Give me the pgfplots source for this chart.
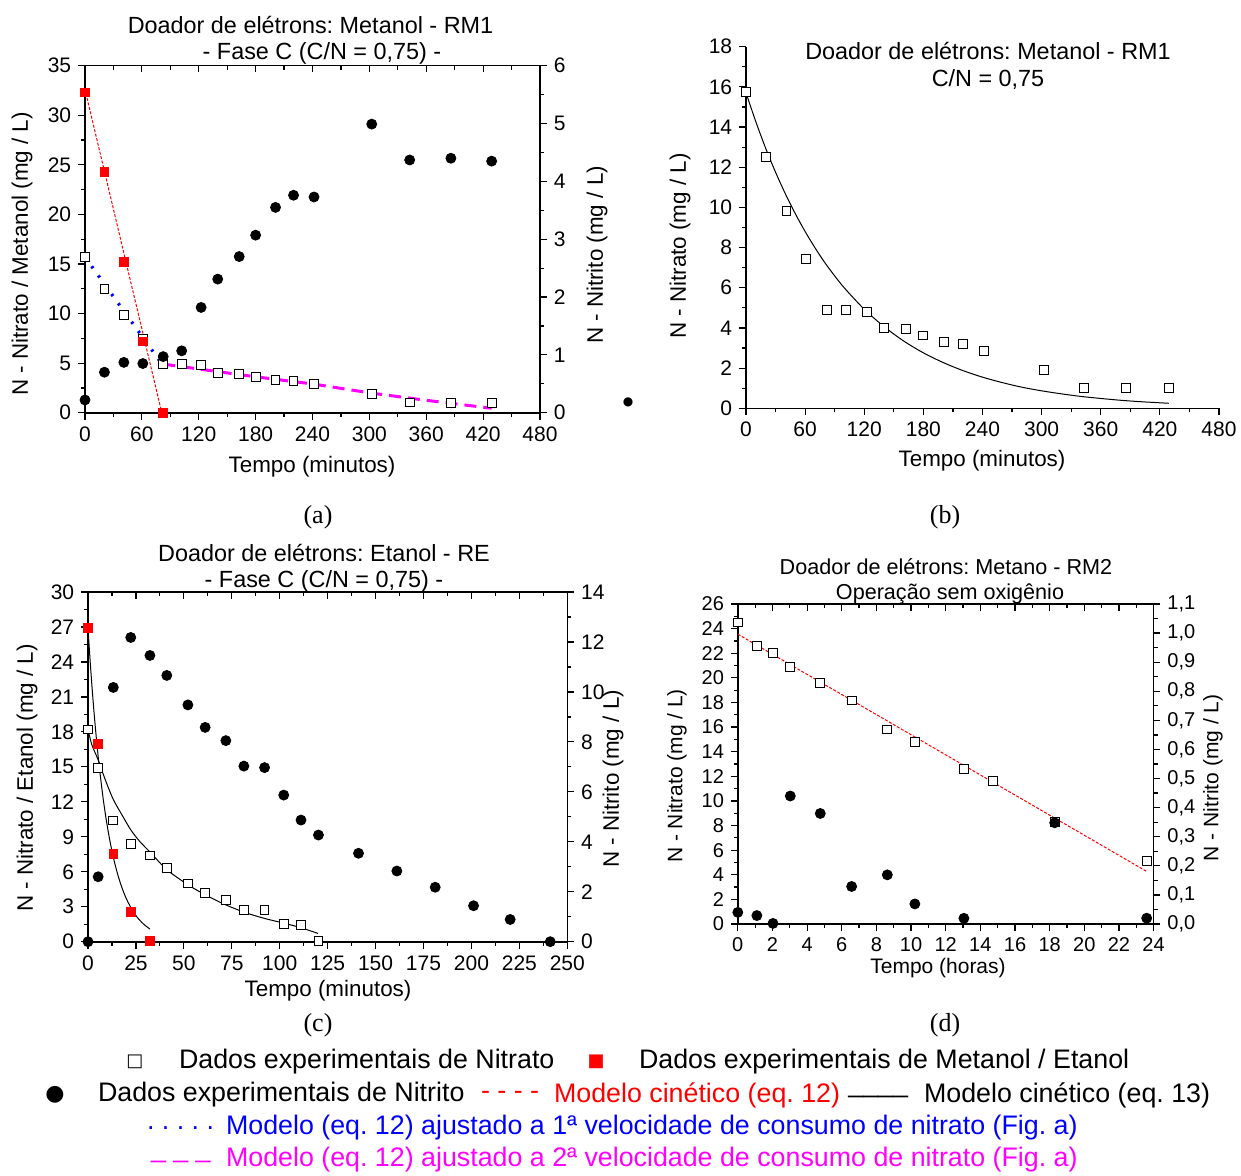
\documentclass[border=0pt]{standalone}
\usepackage{pgfplots}
\pgfplotsset{compat=1.18}
\usepackage{fontspec}
\setmainfont{Liberation Sans}
\newfontfamily\seriffont{Liberation Serif}
\newfontfamily\symfont{DejaVu Sans}
\frenchspacing
\definecolor{mag}{RGB}{255,0,255}
\definecolor{rd}{RGB}{255,0,0}
\definecolor{bl}{RGB}{0,0,255}
\newcommand\tk{\fontsize{10.5}{12}\selectfont}
\newcommand\lab{\fontsize{11.2}{13}\selectfont}
\newcommand\ttl{\fontsize{11.7}{14}\selectfont}
\newcommand\leg{\fontsize{13.4}{15}\selectfont}
\pgfplotsset{
  base/.style={scale only axis, anchor=south west,
    tick label style={font=\tk},
    /pgf/number format/assume math mode=true,
    scaled ticks=false,
    major tick length=3.4pt, minor tick length=2pt,
    every tick/.style={line width=0.6pt, black},
    axis line style={line width=0.8pt,-},
    every outer x axis line/.append style={-},
    every outer y axis line/.append style={-},
    every inner x axis line/.append style={-},
    every inner y axis line/.append style={-},
  },
  hsq/.style={only marks, mark=square*, mark size=2.2pt, mark options={fill=white, draw=black, line width=0.5pt}},
  rsq/.style={only marks, mark=square*, mark size=2.2pt, mark options={fill=rd, draw=rd}},
  bci/.style={only marks, mark=*, mark size=2.5pt, mark options={fill=black, draw=black}},
  redline/.style={rd, line width=0.5pt, dash pattern=on 1.5pt off 0.8pt, no marks},
  modline/.style={black, line width=0.5pt, no marks, smooth},
}
\begin{document}
\begin{tikzpicture}[x=0.5pt,y=0.5pt]
\path[use as bounding box] (0,0) rectangle (1241,1175);
\coordinate (PA) at (85,762.3);
\coordinate (PB) at (746,766.7);
\coordinate (PC) at (88,233.3);
\coordinate (PD) at (737.8,251);

%%%%%%%%%%%%%%%% Panel a
\begin{axis}[base, at={(PA)}, width=227.5pt, height=173.5pt,
  xmin=0,xmax=480,ymin=0,ymax=35,
  axis x line*=bottom, axis y line*=left, tick align=outside,
  xtick={0,60,...,480}, minor x tick num=1,
  ytick={0,5,...,35}, minor y tick num=1]
\addplot[redline] coordinates {(1,32.2) (81,0)};
\addplot[bl, line width=1.6pt, dash pattern=on 1.2pt off 4.5pt, no marks] coordinates {(0,15.7) (82,4.8)};
\addplot[mag, line width=1.5pt, dash pattern=on 6pt off 3.5pt, no marks] coordinates {(82.5,4.9) (180,3.62) (240,2.9) (302,1.98) (360,1.25) (429,0.45)};
\addplot[hsq] coordinates {(0,15.7) (20.5,12.5) (41,9.83) (61,7.45) (82.5,4.9) (102,4.9) (122.5,4.78) (140,3.98) (162.7,3.92) (180,3.62) (201,3.32) (220,3.2) (241.6,2.86) (302.5,1.9) (342.5,1.03) (386,1.0) (429,1.0)};
\addplot[rsq] coordinates {(0,32.3) (20.5,24.3) (41,15.2) (61,7.2) (82.5,0)};
\end{axis}
\begin{axis}[base, at={(PA)}, width=227.5pt, height=173.5pt,
  xmin=0,xmax=480,ymin=0,ymax=35, hide y axis,
  axis x line*=top, tick align=inside,
  xtick={0,60,...,480}, minor x tick num=1, xticklabels={}]
\end{axis}
\begin{axis}[base, at={(PA)}, width=227.5pt, height=173.5pt,
  xmin=0,xmax=480,ymin=0,ymax=6, hide x axis,
  axis y line*=right, tick align=outside,
  ytick={0,1,...,6}, minor y tick num=1]
\addplot[bci] coordinates {(0,0.22) (20.5,0.70) (41,0.87) (61,0.85) (82.5,0.97) (102,1.07) (122.5,1.82) (140,2.31) (162.7,2.70) (180,3.07) (201,3.55) (220,3.76) (241.6,3.73) (302.5,4.99) (342.5,4.37) (386,4.40) (429,4.35)};
\end{axis}
\node[font=\ttl] at (310.5,1150) {Doador de elétrons: Metanol - RM1};
\node[font=\ttl] at (322,1122) {- Fase C (C/N = 0,75) -};
\node[font=\lab, rotate=90] at (22,921) {N - Nitrato / Metanol (mg / L)};
\node[font=\lab, rotate=90] at (597,920) {N - Nitrito (mg / L)};
\node[font=\lab] at (312,708) {Tempo (minutos)};
\node[font=\seriffont\fontsize{13}{15}\selectfont] at (318,658) {(a)};
\node[font=\symfont\fontsize{6}{7}\selectfont] at (628,773) {●};

%%%%%%%%%%%%%%%% Panel b
\begin{axis}[base, at={(PB)}, width=236.5pt, height=180.8pt,
  xmin=0,xmax=480,ymin=0,ymax=18,
  axis x line*=bottom, axis y line*=left, tick align=outside,
  xtick={0,60,...,480}, minor x tick num=1,
  ytick={0,2,...,18}, minor y tick num=1]
\addplot[modline] coordinates {(0,15.70) (10,14.26) (20,12.94) (30,11.75) (40,10.67) (50,9.69) (60,8.80) (70,7.99) (80,7.25) (90,6.59) (100,5.98) (120,4.93) (140,4.07) (160,3.35) (180,2.76) (200,2.28) (220,1.88) (240,1.55) (260,1.28) (280,1.05) (300,0.87) (320,0.72) (340,0.59) (360,0.49) (380,0.40) (400,0.33) (429,0.25)};
\addplot[hsq] coordinates {(0,15.73) (20,12.52) (41,9.82) (61,7.43) (82,4.89) (101.5,4.89) (122.4,4.78) (139.7,3.98) (162.7,3.93) (180,3.62) (201,3.32) (220,3.2) (241.6,2.87) (302.8,1.91) (343,1.03) (386,1.0) (429,1.0)};
\end{axis}
\node[font=\ttl] at (988,1124) {Doador de elétrons: Metanol - RM1};
\node[font=\ttl] at (988,1095) {C/N = 0,75};
\node[font=\lab, rotate=90] at (680,929) {N - Nitrato (mg / L)};
\node[font=\lab] at (982,714) {Tempo (minutos)};
\node[font=\seriffont\fontsize{13}{15}\selectfont] at (945,658) {(b)};

%%%%%%%%%%%%%%%% Panel c
\begin{axis}[base, at={(PC)}, width=239.65pt, height=174.85pt,
  xmin=0,xmax=250,ymin=0,ymax=30,
  axis x line*=bottom, axis y line*=left, tick align=outside,
  xtick={0,25,...,250}, minor x tick num=1,
  ytick={0,3,...,30}, minor y tick num=1]
\addplot[modline] coordinates {(0,26.90) (1,24.36) (2,22.06) (3,19.97) (4,18.09) (5,16.38) (6,14.83) (8,12.16) (10,9.97) (12,8.17) (14,6.70) (16,5.49) (18,4.50) (20,3.69) (22,3.03) (24,2.48) (26,2.03) (28,1.67) (30,1.37) (32.3,1.09)};
\addplot[modline] coordinates {(0,18.2) (2,16.9) (5.3,15.6) (9,13.9) (13.2,12.2) (18,10.8) (22.3,9.6) (27,8.6) (32.3,7.7) (41,6.2) (52,4.9) (62,3.95) (72,3.15) (82,2.5) (92,2.0) (102,1.6) (111,1.2) (120,0.71)};
\addplot[hsq] coordinates {(0,18.2) (5.3,14.9) (13.2,10.4) (22.3,8.4) (32.3,7.4) (41.1,6.3) (52.1,5.0) (61.1,4.2) (71.9,3.6) (81.3,2.7) (92.1,2.7) (102.1,1.5) (111.1,1.43) (120.2,0.05)};
\addplot[rsq] coordinates {(0,26.9) (5.3,17.0) (13.2,7.5) (22.3,2.57) (32.3,0.05)};
\end{axis}
\begin{axis}[base, at={(PC)}, width=239.65pt, height=174.85pt,
  xmin=0,xmax=250,ymin=0,ymax=30, hide y axis,
  axis x line*=top, tick align=inside,
  xtick={0,25,...,250}, minor x tick num=1, xticklabels={}]
\end{axis}
\begin{axis}[base, at={(PC)}, width=239.65pt, height=174.85pt,
  xmin=0,xmax=250,ymin=0,ymax=14, hide x axis,
  axis y line*=right, tick align=outside,
  ytick={0,2,...,14}, minor y tick num=1]
\addplot[bci] coordinates {(0,0) (5.3,2.60) (13.2,10.18) (22.3,12.18) (32.3,11.46) (41.1,10.66) (52.1,9.48) (61.1,8.58) (71.9,8.05) (81.3,7.03) (92.1,6.97) (102.1,5.87) (111.1,4.87) (120.2,4.27) (141.1,3.54) (161.1,2.83) (181.1,2.18) (201.1,1.44) (220.2,0.89) (241.1,0)};
\end{axis}
\node[font=\ttl] at (324,622) {Doador de elétrons: Etanol - RE};
\node[font=\ttl] at (324,594) {- Fase C (C/N = 0,75) -};
\node[font=\lab, rotate=90] at (27,397) {N - Nitrato / Etanol (mg / L)};
\node[font=\lab, rotate=90] at (613,396) {N - Nitrito (mg / L)};
\node[font=\lab] at (328,184) {Tempo (minutos)};
\node[font=\seriffont\fontsize{13}{15}\selectfont] at (318,150) {(c)};

%%%%%%%%%%%%%%%% Panel d
\begin{axis}[base, at={(PD)}, width=207.9pt, height=160pt,
  tick label style={font=\fontsize{10}{11}\selectfont},
  xmin=0,xmax=24,ymin=0,ymax=26,
  axis x line*=bottom, axis y line*=left, tick align=outside,
  xtick={0,2,...,24}, minor x tick num=1,
  ytick={0,2,...,26}, minor y tick num=1]
\addplot[redline] coordinates {(0,23.55) (23.6,4.27)};
\addplot[hsq] coordinates {(0,24.5) (1.1,22.6) (2.03,22.05) (3.03,20.9) (4.76,19.6) (6.57,18.16) (8.63,15.8) (10.22,14.8) (13.05,12.58) (14.71,11.63) (18.29,8.3) (23.6,5.09)};
\end{axis}
\begin{axis}[base, at={(PD)}, width=207.9pt, height=160pt,
  xmin=0,xmax=24,ymin=0,ymax=26, hide y axis,
  axis x line*=top, tick align=inside,
  xtick={0,2,...,24}, minor x tick num=1, xticklabels={}]
\end{axis}
\begin{axis}[base, at={(PD)}, width=207.9pt, height=160pt,
  tick label style={font=\fontsize{10}{11}\selectfont},
  xmin=0,xmax=24,ymin=0,ymax=1.1, hide x axis,
  axis y line*=right, tick align=outside,
  ytick={0,0.1,0.2,0.3,0.4,0.5,0.6,0.7,0.8,0.9,1.0,1.1}, minor y tick num=1,
  yticklabels={{0,0},{0,1},{0,2},{0,3},{0,4},{0,5},{0,6},{0,7},{0,8},{0,9},{1,0},{1,1}}]
\addplot[bci] coordinates {(0,0.040) (1.1,0.029) (2.03,0.002) (3.03,0.44) (4.76,0.38) (6.57,0.129) (8.63,0.169) (10.22,0.069) (13.05,0.0196) (18.29,0.348) (23.6,0.02)};
\end{axis}
\node[font=\fontsize{10.8}{13}\selectfont] at (946,608) {Doador de elétrons: Metano - RM2};
\node[font=\fontsize{10.8}{13}\selectfont] at (950,581) {Operação sem oxigênio};
\node[font=\fontsize{10.5}{12}\selectfont, rotate=90] at (677,399) {N - Nitrato (mg / L)};
\node[font=\fontsize{10.5}{12}\selectfont, rotate=90] at (1213,397) {N - Nitrito (mg / L)};
\node[font=\fontsize{10.5}{12}\selectfont] at (938,207) {Tempo (horas)};
\node[font=\seriffont\fontsize{13}{15}\selectfont] at (945,150) {(d)};

%%%%%%%%%%%%%%%% Legend
\node[font=\symfont\fontsize{9}{10}\selectfont] at (135,113) {□};
\node[font=\leg, anchor=west] at (172,113) {Dados experimentais de Nitrato};
\node[font=\symfont\fontsize{9}{10}\selectfont, text=rd] at (596,113) {■};
\node[font=\leg, anchor=west] at (632,113) {Dados experimentais de Metanol / Etanol};
\node[font=\symfont\fontsize{11}{12}\selectfont] at (55,80) {●};
\node[font=\leg, anchor=west] at (91,80) {Dados experimentais de Nitrito};
\node[font=\leg, anchor=west, text=rd] at (474,80) {- - - -};
\node[font=\leg, anchor=west] at (547,80) {\textcolor{rd}{Modelo cinético (eq. 12)}};
\node[font=\leg, anchor=west, inner sep=0pt] at (848,80) {\_\_\_\_};
\node[font=\leg, anchor=west] at (917,80) {Modelo cinético (eq. 13)};
\node[font=\leg, anchor=west, text=bl] at (140,47) {. . . . .};
\node[font=\leg, anchor=west, text=bl] at (219,47) {Modelo (eq. 12) ajustado a 1ª velocidade de consumo de nitrato (Fig. a)};
\node[font=\leg, anchor=west, text=mag] at (144,15) {\_ \_ \_};
\node[font=\leg, anchor=west, text=mag] at (219,15) {Modelo (eq. 12) ajustado a 2ª velocidade de consumo de nitrato (Fig. a)};
\end{tikzpicture}
\end{document}
